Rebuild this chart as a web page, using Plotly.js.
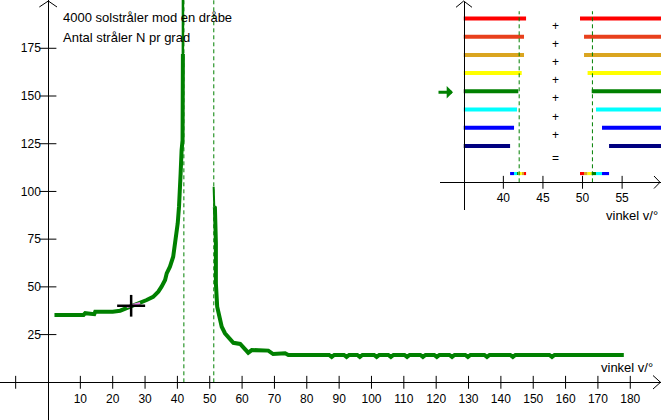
<!DOCTYPE html>
<html><head><meta charset="utf-8">
<script src="https://cdn.plot.ly/plotly-3.0.1.min.js"></script>
<style>html,body{margin:0;padding:0;background:#fff}#chart{width:661px;height:420px}</style>
</head><body><div id="chart"></div>
<script>
// ---------- main chart data ----------
const curveLeftAngle = [2, 11, 11.5, 12.4, 13, 14.3, 14.6, 17, 18, 20, 22.3, 23.8, 25, 26.5, 28.4, 30.5, 32.5, 34.1, 35.1, 36.2, 36.7, 37.7, 38.7, 39.5, 40.1, 40.5, 40.9, 41.0, 41.3, 41.6, 41.7];
const curveLeftN     = [35.3, 35.3, 36.2, 36.2, 35.7, 35.7, 37, 37, 36.5, 37, 37.5, 38.5, 39.5, 40.5, 41.4, 43.1, 44.8, 47.5, 50.1, 53.6, 57.1, 60.6, 65.8, 74.5, 83.3, 92, 100.7, 109.5, 121.7, 126.9, 172];
const peakAngle = [41.7, 41.85];
const peakN     = [172, 420];
const secEdgeAngle = [51.2, 51.4];
const secEdgeN     = [102.5, 92];
const curveRightAngle = [51.4, 51.6, 51.9, 51.9, 52.3, 53.0, 53.7, 54.7, 55.7, 57.3, 59.4, 60.4, 61.9, 63.0, 68.1, 69.6, 71.7, 73.3, 74.3,
  86.9, 87.7, 88.5, 91.5, 92.3, 93.1, 95.6, 96.4, 97.2, 100.8, 101.6, 102.4, 105.2, 106, 106.8, 110.2, 111, 111.8,
  115.1, 115.9, 116.7, 119.4, 120.2, 121, 124.1, 124.9, 125.7, 129, 129.8, 130.6, 134.9, 135.7, 136.5, 142.9, 143.7, 144.5,
  155, 155.8, 156.6, 178];
const curveRightN = [92, 91.5, 72.8, 51.9, 39.6, 35.3, 29.1, 25.7, 23.9, 20.7, 20.1, 18.3, 15.5, 16.9, 16.6, 14.8, 14.8, 15.2, 14.3,
  14.3, 13.3, 14.3, 14.3, 13.3, 14.3, 14.3, 13.3, 14.3, 14.3, 13.3, 14.3, 14.3, 13.3, 14.3, 14.3, 13.3, 14.3,
  14.3, 13.3, 14.3, 14.3, 13.3, 14.3, 14.3, 13.3, 14.3, 14.3, 13.3, 14.3, 14.3, 13.3, 14.3, 14.3, 13.3, 14.3,
  14.3, 13.3, 14.3, 14.3];
const cursorAngle = [25.7];
const cursorN = [40.1];
const cursorTraceAngle = [24.3, 28.5];
const cursorTraceN = [39.6, 41.4];
const rainbowAngles = [42, 51.25];
const xTickVals = [-10, 10, 20, 30, 40, 50, 60, 70, 80, 90, 100, 110, 120, 130, 140, 150, 160, 170, 180];
const xLabelVals = [10, 20, 30, 40, 50, 60, 70, 80, 90, 100, 110, 120, 130, 140, 150, 160, 170, 180];
const yTickVals = [25, 50, 75, 100, 125, 150, 175];
const titleLines = ['4000 solstråler mod en dråbe', 'Antal stråler N pr grad'];
const xTitle = 'vinkel v/°';

// ---------- inset data ----------
const rayColors = ['#ff0000', '#e8401c', '#daa520', '#ffff00', '#008000', '#00ffff', '#0000ff', '#000080'];
const rowIndex  = [9, 8, 7, 6, 5, 4, 3, 2];
const leftEnd    = [42.87, 42.61, 42.61, 42.32, 41.89, 41.73, 41.35, 40.85];
const rightStart = [49.68, 50.19, 50.19, 50.64, 51.16, 51.70, 52.46, 53.35];
const opsRow  = [8.55, 7.55, 6.55, 5.55, 4.55, 3.55, 2.55, 1.3];
const opsText = ['+', '+', '+', '+', '+', '+', '+', '='];
const insetTickVals = [40, 45, 50, 55];
const insetMin = 35, insetMax = 60;

// ---------- build ----------
const W = 661, H = 420;
const px = x => x / W, py = y => 1 - y / H;
const green = '#008000';
const fontFam = 'Liberation Sans, Arial, sans-serif';
const traces = [];

// dashed lines main
rainbowAngles.forEach(a => traces.push({x:[a,a], y:[0,210], mode:'lines', line:{color:green, width:1, dash:'4px,3px'}, xaxis:'x', yaxis:'y'}));
// curve
traces.push({x:curveLeftAngle, y:curveLeftN, mode:'lines', line:{color:green, width:4}, xaxis:'x', yaxis:'y'});
traces.push({x:peakAngle, y:peakN, mode:'lines', line:{color:green, width:2.5}, xaxis:'x', yaxis:'y'});
traces.push({x:secEdgeAngle, y:secEdgeN, mode:'lines', line:{color:green, width:2}, xaxis:'x', yaxis:'y'});
traces.push({x:curveRightAngle, y:curveRightN, mode:'lines', line:{color:green, width:4}, xaxis:'x', yaxis:'y'});
traces.push({x:cursorTraceAngle, y:cursorTraceN, mode:'lines', line:{color:'#ee82ee', width:2.5}, xaxis:'x', yaxis:'y'});
// cursor cross (line symbols are drawn 1.4x the marker size)
traces.push({x:cursorAngle, y:cursorN, mode:'markers', marker:{symbol:'line-ew-open', size:20, color:'#000', line:{width:2.5, color:'#000'}}, xaxis:'x', yaxis:'y'});
traces.push({x:cursorAngle, y:cursorN, mode:'markers', marker:{symbol:'line-ns-open', size:15.5, color:'#000', line:{width:2.5, color:'#000'}}, xaxis:'x', yaxis:'y'});
// main ticks
traces.push({x:xTickVals, y:xTickVals.map(()=>0), mode:'markers', marker:{symbol:'line-ns-open', size:9.2, color:'#000', line:{width:1, color:'#000'}}, xaxis:'x', yaxis:'y'});
traces.push({x:yTickVals.map(()=>0), y:yTickVals, mode:'markers', marker:{symbol:'line-ew-open', size:12, color:'#000', line:{width:1, color:'#000'}}, xaxis:'x', yaxis:'y'});

// inset bars
traces.push({type:'bar', orientation:'h', y:rowIndex, base:rowIndex.map(()=>insetMin), x:leftEnd.map(v=>v-insetMin), width:0.22,
  marker:{color:rayColors, line:{width:0}}, xaxis:'x2', yaxis:'y2'});
traces.push({type:'bar', orientation:'h', y:rowIndex, base:rightStart, x:rightStart.map(v=>insetMax-v), width:0.22,
  marker:{color:rayColors, line:{width:0}}, xaxis:'x2', yaxis:'y2'});
// colour strip
const sL = [], sLb = [], sLc = [], sR = [], sRb = [], sRc = [];
for (let i = 0; i < rayColors.length - 1; i++) {
  sLb.push(leftEnd[i+1]); sL.push(leftEnd[i] - leftEnd[i+1]); sLc.push(rayColors[i]);
  sRb.push(rightStart[i]); sR.push(rightStart[i+1] - rightStart[i]); sRc.push(rayColors[i]);
}
traces.push({type:'bar', orientation:'h', y:sL.map(()=>0.48), base:sLb, x:sL, width:0.17, marker:{color:sLc, line:{width:0}}, xaxis:'x2', yaxis:'y2'});
traces.push({type:'bar', orientation:'h', y:sR.map(()=>0.48), base:sRb, x:sR, width:0.17, marker:{color:sRc, line:{width:0}}, xaxis:'x2', yaxis:'y2'});
// inset dashed
rainbowAngles.forEach(a => traces.push({x:[a,a], y:[0,9.4], mode:'lines', line:{color:green, width:1, dash:'4px,3px'}, xaxis:'x2', yaxis:'y2'}));
// operators
traces.push({x:opsRow.map(()=>46.6), y:opsRow, mode:'text', text:opsText, textposition:'middle center',
  textfont:{family:fontFam, size:12, color:'#000'}, xaxis:'x2', yaxis:'y2'});
// inset ticks
traces.push({x:insetTickVals, y:insetTickVals.map(()=>0), mode:'markers', marker:{symbol:'line-ns-open', size:9.2, color:'#000', line:{width:1, color:'#000'}}, xaxis:'x2', yaxis:'y2'});

const axBase = {showgrid:false, zeroline:false, showline:true, linecolor:'#000', linewidth:1, anchor:'free',
  tickfont:{family:fontFam, size:12, color:'#000'}, ticks:'outside', tickcolor:'rgba(0,0,0,0)', ticklen:6, fixedrange:true};

const arrow = (pts) => ({type:'path', xref:'paper', yref:'paper',
  path:'M' + pts.map(p => px(p[0]) + ',' + py(p[1])).join(' L'), line:{color:'#000', width:1}});

const layout = {
  width:W, height:H, margin:{l:0, r:0, t:0, b:0}, showlegend:false, barmode:'overlay',
  paper_bgcolor:'#fff', plot_bgcolor:'rgba(0,0,0,0)',
  xaxis: Object.assign({}, axBase, {domain:[0,1], range:[-14.84, 189.5], position:py(382.3), tickmode:'array', tickvals:xLabelVals, ticktext:xLabelVals.map(String), ticklen:5}),
  yaxis: Object.assign({}, axBase, {domain:[0,1], range:[-19.75, 200.3], position:px(48.3), tickmode:'array', tickvals:yTickVals, ticktext:yTickVals.map(String), ticklen:5}),
  xaxis2: Object.assign({}, axBase, {domain:[px(440),1], range:[32.0, 59.91], position:py(182.3), tickmode:'array', tickvals:insetTickVals, ticktext:insetTickVals.map(String), ticklen:4}),
  yaxis2: Object.assign({}, axBase, {domain:[py(210), py(2)], range:[-1.522, 9.907], position:px(463.7), showticklabels:false, ticks:''}),
  annotations: [
    {xref:'paper', yref:'paper', x:px(61), y:py(18), xanchor:'left', yanchor:'middle', text:titleLines[0], showarrow:false, font:{family:fontFam, size:13, color:'#000'}},
    {xref:'paper', yref:'paper', x:px(61), y:py(37), xanchor:'left', yanchor:'middle', text:titleLines[1], showarrow:false, font:{family:fontFam, size:13, color:'#000'}},
    {xref:'paper', yref:'paper', x:px(655), y:py(367), xanchor:'right', yanchor:'middle', text:xTitle, showarrow:false, font:{family:fontFam, size:13, color:'#000'}},
    {xref:'paper', yref:'paper', x:px(660), y:py(216), xanchor:'right', yanchor:'middle', text:xTitle, showarrow:false, font:{family:fontFam, size:13, color:'#000'}},
    {xref:'paper', yref:'paper', x:px(453), y:py(92.3), ax:-16, ay:0, text:'', showarrow:true, arrowhead:1, arrowsize:0.7, arrowwidth:3, arrowcolor:green}
  ],
  shapes: [
    arrow([[39.3,7],[48.3,1],[57,7]]),
    arrow([[653,375.5],[660.5,382.3],[653,389]]),
    arrow([[456,7.3],[463.7,1],[472,7.3]]),
    arrow([[654,176],[660,182.3],[654,188.5]])
  ]
};

Plotly.newPlot('chart', traces, layout, {staticPlot:true, displayModeBar:false});
</script></body></html>
